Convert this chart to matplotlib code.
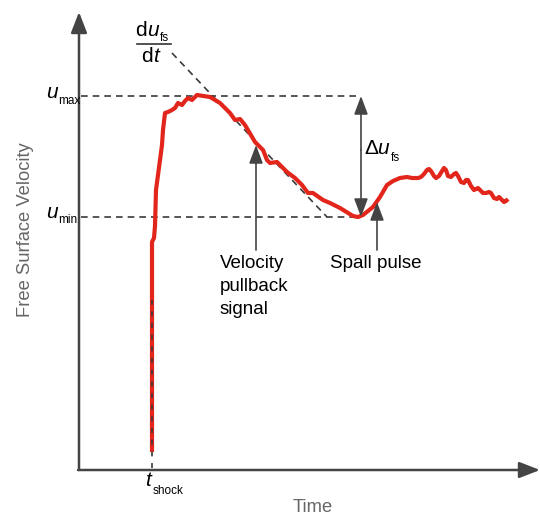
import matplotlib
matplotlib.use("Agg")
import matplotlib.pyplot as plt

plt.rcParams['font.family'] = ['Liberation Sans', 'DejaVu Sans']

# free surface velocity trace (schematic units: time, velocity)
time = [73, 73, 75, 76, 77, 79, 81, 83, 84, 86, 89, 93, 96, 99, 103, 106, 109, 113,
        118, 131, 141, 151, 156, 161, 166, 176, 184, 188, 191, 198, 201, 208, 216,
        223, 229, 234, 244, 251, 261, 274, 279, 284, 294, 301, 308, 314, 321, 328,
        333, 336, 339, 342, 345, 348, 350, 352, 355, 357, 360, 363, 365, 367, 369,
        372, 375, 377, 379, 382, 385, 387, 389, 392, 395, 397, 399, 401, 404, 407,
        410, 412, 415, 418, 420, 422, 425, 427, 429]
velocity = [18, 228, 232, 244, 280, 295, 310, 325, 340, 357, 358, 360, 362, 367, 365,
            369, 372, 370, 375, 373, 367, 357, 350, 351, 345, 328, 320, 310, 307, 308,
            305, 298, 292, 285, 277, 277, 270, 267, 262, 254, 253, 255, 263, 273, 285,
            289, 292, 293, 292, 292, 292, 293, 296, 300, 301, 299, 294, 292, 294, 299,
            302, 300, 294, 293, 296, 297, 294, 288, 287, 290, 290, 284, 280, 281, 282,
            280, 277, 277, 278, 277, 272, 271, 273, 271, 268, 269, 271]

u_max = 374
u_min = 253
t_shock = 73
tangent_t = [93, 248]
tangent_v = [417, 253]

fig = plt.figure(figsize=(5.40, 5.17), dpi=100)
ax = fig.add_axes([0, 0, 1, 1])
ax.set_xlim(-79, 461)
ax.set_ylim(-47, 470)
ax.axis('off')

axis_col = '#444444'
dash_col = '#3a3a3a'
red = '#e2261c'

# axes with arrow heads
ax.annotate('', xy=(0, 458), xytext=(0, 0),
            arrowprops=dict(arrowstyle='-|>,head_length=0.9,head_width=0.35', color=axis_col,
                            lw=1.8, shrinkA=0, shrinkB=0, mutation_scale=14))
ax.annotate('', xy=(461, 0), xytext=(-1, 0),
            arrowprops=dict(arrowstyle='-|>,head_length=0.9,head_width=0.35', color=axis_col,
                            lw=1.8, shrinkA=0, shrinkB=0, mutation_scale=14))

# guide lines
ax.plot([2, 281], [u_max, u_max], ls=(0, (4, 3)), color=dash_col, lw=1.2)
ax.plot([2, 279], [u_min, u_min], ls=(0, (4, 3)), color=dash_col, lw=1.2)
ax.plot(tangent_t, tangent_v, ls=(0, (4, 3)), color=dash_col, lw=1.2)

ax.plot(time, velocity, color=red, lw=3, solid_joinstyle='round', solid_capstyle='butt', zorder=3)
ax.plot([t_shock, t_shock], [2, 170], ls=(0, (3, 4)), color=dash_col, lw=1.2, zorder=4)

# delta u arrow
arr = dict(arrowstyle='-|>,head_length=0.8,head_width=0.3', color=axis_col, lw=1.2,
           shrinkA=0, shrinkB=0, mutation_scale=14)
ax.annotate('', xy=(282, u_max), xytext=(282, 320), arrowprops=arr)
ax.annotate('', xy=(282, u_min), xytext=(282, 320), arrowprops=arr)

# pullback and spall arrows
ax.annotate('', xy=(177, 325), xytext=(177, 220), arrowprops=arr)
ax.annotate('', xy=(298, 268), xytext=(298, 220), arrowprops=arr)

fs = 13.5
ax.text(141, 215, 'Velocity\npullback\nsignal', fontsize=fs, ha='left', va='top', linespacing=1.45)
ax.text(251, 215, 'Spall pulse', fontsize=fs, ha='left', va='top')

lab_col = '#666666'
ax.text(-54, 240, 'Free Surface Velocity', fontsize=13.2, color=lab_col, rotation=90,
        ha='center', va='center')
ax.text(234, -38, 'Time', fontsize=13.2, color=lab_col, ha='center', va='center')

# symbol labels
big = 15
sub = 8.5
ax.text(-33, 377, 'u', fontsize=big, style='italic', ha='left', va='center')
ax.text(-21, 369, 'max', fontsize=sub, ha='left', va='center')
ax.text(-33, 258, 'u', fontsize=big, style='italic', ha='left', va='center')
ax.text(-21, 250, 'min', fontsize=sub, ha='left', va='center')

ax.text(66, -11, 't', fontsize=big, style='italic', ha='left', va='center')
ax.text(74, -21, 'shock', fontsize=sub, ha='left', va='center')

ax.text(285, 322, 'Δ', fontsize=big, ha='left', va='center')
ax.text(298, 322, 'u', fontsize=big, style='italic', ha='left', va='center')
ax.text(312, 312, 'fs', fontsize=sub, ha='left', va='center')

# derivative fraction
ax.text(56, 440, 'd', fontsize=big, ha='left', va='center')
ax.text(68, 440, 'u', fontsize=big, style='italic', ha='left', va='center')
ax.text(81, 432, 'fs', fontsize=sub, ha='left', va='center')
ax.plot([58, 92], [426, 426], color='#333333', lw=1.2)
ax.text(74, 414, 'd', fontsize=big, ha='right', va='center')
ax.text(74, 414, 't', fontsize=big, style='italic', ha='left', va='center')

fig.savefig('out.png', dpi=100)
